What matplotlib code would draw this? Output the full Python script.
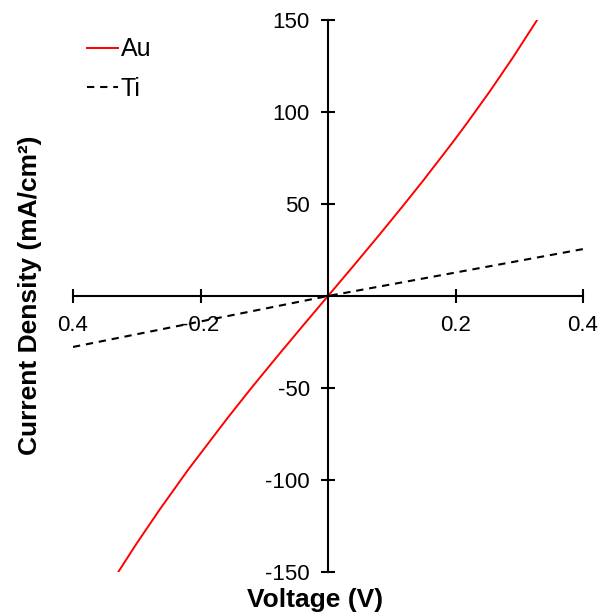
import matplotlib.pyplot as plt

plt.rcParams['font.family'] = ['Liberation Sans', 'DejaVu Sans']

# Current density vs voltage
au_v = [-0.329, -0.30, -0.2635, -0.22, -0.158, -0.12, -0.08, -0.04, 0.0,
        0.04, 0.0816, 0.12, 0.149, 0.196, 0.22, 0.254, 0.29, 0.328]
au_j = [-150, -134.4, -115.8, -94.7, -66.5, -49.9, -33.0, -16.4, 0,
        16.4, 33.7, 50.0, 62.6, 83.7, 94.9, 111.3, 129.6, 150]
ti_v = [-0.4, 0.0, 0.4]
ti_j = [-27.7, 0, 25.5]

x_ticks = [-0.4, -0.2, 0.2, 0.4]
x_tick_labels = ['0.4', '-0.2', '0.2', '0.4']
y_ticks = [-150, -100, -50, 50, 100, 150]
y_tick_labels = ['-150', '-100', '-50', '50', '100', '150']

fig = plt.figure(figsize=(6.03, 6.15), dpi=100)
ax = fig.add_axes([73 / 603, 43 / 615, 510 / 603, 552 / 615])

ax.plot(au_v, au_j, color='red', lw=1.4, label='Au')
ax.plot(ti_v, ti_j, color='black', lw=1.5, ls=(0, (3.5, 2.8)), label='Ti')

ax.set_xlim(-0.4, 0.4)
ax.set_ylim(-150, 150)

# axes cross at the origin
ax.spines['left'].set_position(('data', 0))
ax.spines['bottom'].set_position(('data', 0))
ax.spines['top'].set_visible(False)
ax.spines['right'].set_visible(False)
for s in ('left', 'bottom'):
    ax.spines[s].set_linewidth(1.5)

ax.set_xticks(x_ticks, x_tick_labels)
ax.set_yticks(y_ticks, y_tick_labels)
ax.tick_params(direction='inout', length=10, width=1.5, labelsize=16, pad=8)
ax.tick_params(axis='x', pad=9)

fig.text(315 / 603, 15 / 615, 'Voltage (V)', ha='center', va='center',
         fontsize=19, fontweight='bold')
fig.text(30 / 603, 320 / 615, 'Current Density (mA/cm²)', ha='center',
         va='center', rotation=90, fontsize=19, fontweight='bold')

ax.legend(loc='upper left', bbox_to_anchor=(-0.007, 1.0), frameon=False,
          fontsize=18, handlelength=1.25, handletextpad=0.1,
          labelspacing=0.6, borderaxespad=0.3)

fig.savefig('out.png', dpi=100)
